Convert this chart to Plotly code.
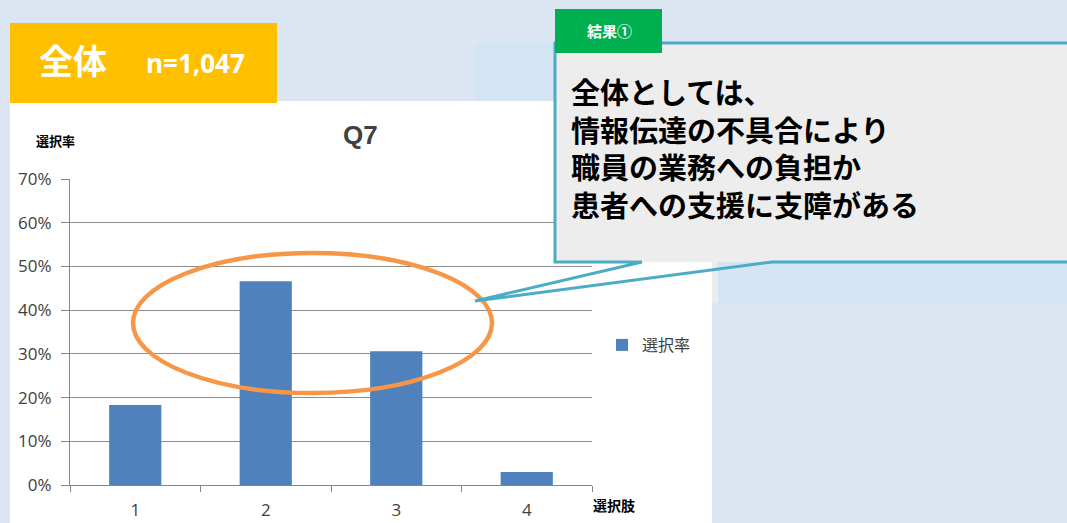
import plotly.graph_objects as go

# ---- data ----
categories = ["1", "2", "3", "4"]
rates = [0.183, 0.466, 0.306, 0.030]
series_name = "選択率"
y_ticks = [0, 0.1, 0.2, 0.3, 0.4, 0.5, 0.6, 0.7]
y_tick_labels = ["0%", "10%", "20%", "30%", "40%", "50%", "60%", "70%"]
title_text = "Q7"
y_title = "選択率"
x_title = "選択肢"
header_main = "全体"
header_n = "n=1,047"
tab_text = "結果①"
callout_lines = ["全体としては、", "情報伝達の不具合により", "職員の業務への負担か", "患者への支援に支障がある"]

W, H = 1067, 523
L, R, T, B = 70, 592, 179, 485  # plot area in pixels

def px(x):
    return (x - L) / (R - L)

def py(y):
    return (B - y) / (B - T)

JP = "Noto Sans CJK JP"

fig = go.Figure()
fig.add_trace(go.Bar(
    x=categories, y=rates, name=series_name,
    marker=dict(color="#4F81BD", line=dict(width=0)),
))

shapes = []
# background areas
shapes.append(dict(type="rect", xref="paper", yref="paper", layer="below",
                   x0=px(10), x1=px(712), y0=py(101), y1=py(530),
                   fillcolor="white", line=dict(width=0)))
shapes.append(dict(type="rect", xref="paper", yref="paper", layer="below",
                   x0=px(475), x1=px(712), y0=py(43), y1=py(100),
                   fillcolor="#D3E5F5", line=dict(width=0)))
shapes.append(dict(type="rect", xref="paper", yref="paper", layer="below",
                   x0=px(718), x1=px(1067), y0=py(262), y1=py(303),
                   fillcolor="#D3E5F5", line=dict(width=0)))
shapes.append(dict(type="rect", xref="paper", yref="paper", layer="below",
                   x0=px(712), x1=px(718), y0=py(100), y1=py(303),
                   fillcolor="#ECECEC", line=dict(width=0)))
# header yellow box
shapes.append(dict(type="rect", xref="paper", yref="paper",
                   x0=px(10), x1=px(277), y0=py(23), y1=py(103),
                   fillcolor="#FFC000", line=dict(width=0)))
# orange ellipse
shapes.append(dict(type="circle", xref="paper", yref="paper",
                   x0=px(133), x1=px(492), y0=py(393), y1=py(253),
                   line=dict(color="#F79646", width=4.5)))
# callout fill
shapes.append(dict(type="rect", xref="paper", yref="paper",
                   x0=px(555), x1=px(1080), y0=py(262), y1=py(43),
                   fillcolor="#EDEDED", line=dict(width=0)))
# callout border with pointer
pts = [(642, 262), (555, 262), (555, 43), (1080, 43), (1080, 262), (772, 262), (475, 301), (642, 262)]
path = "M " + " L ".join(f"{px(a):.5f},{py(b):.5f}" for a, b in pts)
shapes.append(dict(type="path", xref="paper", yref="paper", path=path,
                   line=dict(color="#4BACC6", width=3)))
# green tab
shapes.append(dict(type="rect", xref="paper", yref="paper",
                   x0=px(555), x1=px(662), y0=py(53), y1=py(9),
                   fillcolor="#00B050", line=dict(width=0)))

def ann(text, x, y, font, **kw):
    d = dict(text=text, x=px(x), y=py(y), xref="paper", yref="paper",
             xanchor="center", yanchor="middle", showarrow=False, font=font)
    d.update(kw)
    return d

annotations = [
    ann(f"<b>{header_main}</b>", 73, 59, dict(family=JP, size=34, color="white")),
    ann(f"<b>{header_n}</b>", 195, 63, dict(family="Open Sans", size=26, color="white")),
    ann(f"<b>{tab_text}</b>", 609, 31, dict(family=JP, size=15, color="white")),
    ann(f"<b>{title_text}</b>", 360, 135, dict(family="Liberation Sans", size=26, color="#404040")),
    ann(f"<b>{y_title}</b>", 55, 140, dict(family=JP, size=13, color="black")),
    ann(f"<b>{x_title}</b>", 614, 505, dict(family=JP, size=14, color="black")),
    ann("<b>" + "<br>".join(callout_lines) + "</b>", 569, 148,
        dict(family=JP, size=29, color="black"), xanchor="left", align="left"),
]

fig.update_layout(
    width=W, height=H, autosize=False,
    margin=dict(l=L, r=W - R, t=T, b=H - B, pad=0, autoexpand=False),
    paper_bgcolor="#DCE6F2",
    plot_bgcolor="rgba(0,0,0,0)",
    bargap=0.6,
    shapes=shapes,
    annotations=annotations,
    showlegend=True,
    legend=dict(x=px(602), y=py(345), xanchor="left", yanchor="middle",
                bgcolor="rgba(0,0,0,0)", borderwidth=0, itemwidth=30,
                font=dict(family=JP, size=16, color="#404040")),
    xaxis=dict(type="category", tickson="boundaries", ticks="outside", ticklen=6,
               tickcolor="#868686", showline=True, linecolor="#868686", linewidth=1.2,
               showgrid=False, ticklabelstandoff=9, automargin=False,
               tickfont=dict(family="Open Sans", size=17, color="#404040")),
    yaxis=dict(range=[0, 0.7], tickvals=y_ticks, ticktext=y_tick_labels,
               ticks="outside", ticklen=8, tickcolor="#868686",
               showline=True, linecolor="#868686", linewidth=1.2,
               showgrid=True, gridcolor="#8C8C8C", gridwidth=1.2,
               zeroline=False, ticklabelstandoff=6, automargin=False,
               tickfont=dict(family="Open Sans", size=17, color="#404040")),
)

fig.write_html("out.html",
               config={"displayModeBar": False, "responsive": False},
               post_script="document.body.style.margin='0';document.body.style.overflow='hidden';")
